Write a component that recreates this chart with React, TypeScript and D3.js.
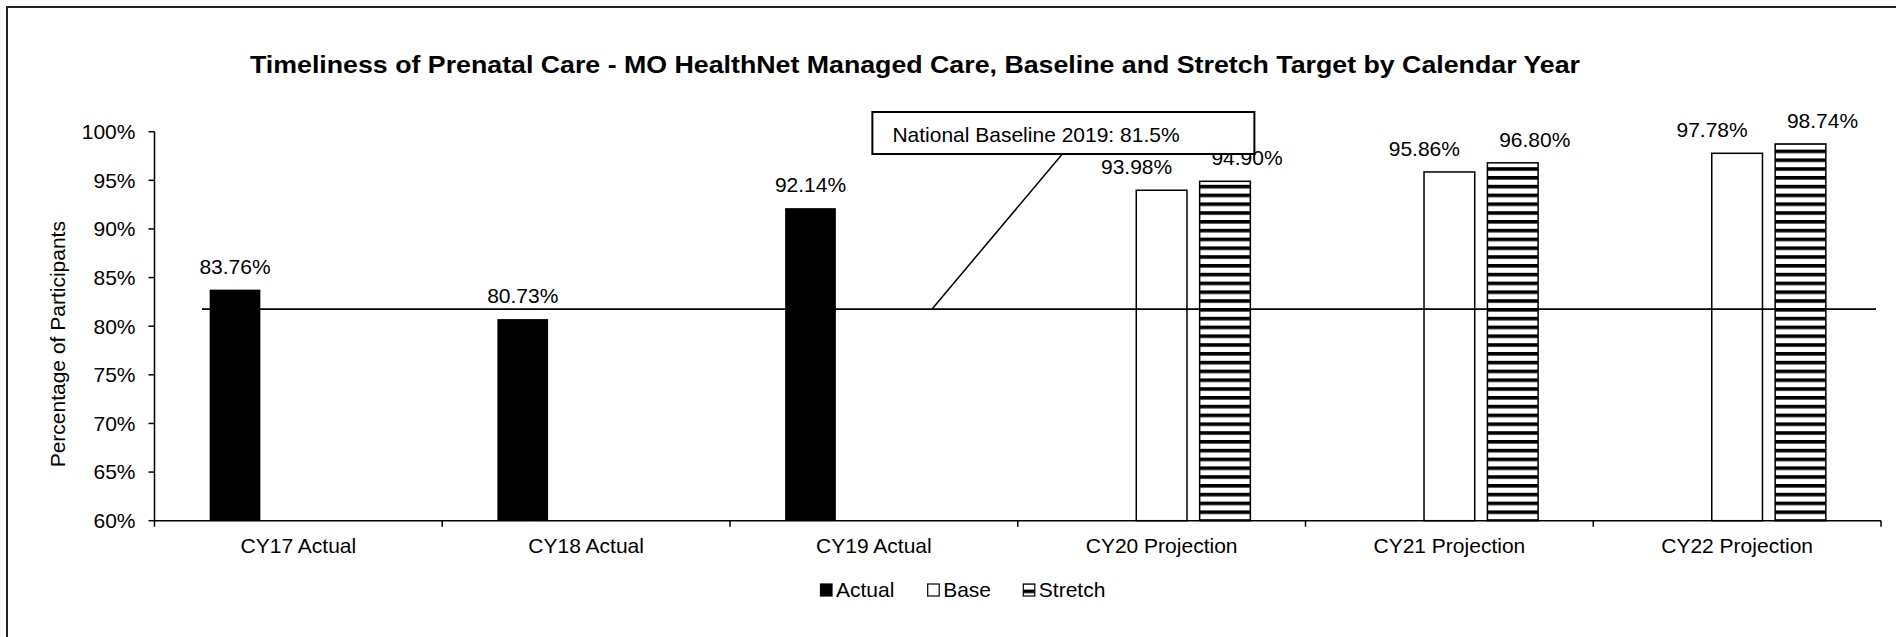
import * as d3 from 'd3'

const categories = [
  'CY17 Actual',
  'CY18 Actual',
  'CY19 Actual',
  'CY20 Projection',
  'CY21 Projection',
  'CY22 Projection'
]
const seriesNames = ['Actual', 'Base', 'Stretch']
const actualValues = [83.76, 80.73, 92.14, null, null, null]
const baseValues = [null, null, null, 93.98, 95.86, 97.78]
const stretchValues = [null, null, null, 94.9, 96.8, 98.74]
const yTicks = [60, 65, 70, 75, 80, 85, 90, 95, 100]

const title =
  'Timeliness of Prenatal Care - MO HealthNet Managed Care, Baseline and Stretch Target by Calendar Year'
const yTitle = 'Percentage of Participants'
const baselineLabel = 'National Baseline 2019: 81.5%'
// the drawn line sits a touch above 81.5 in the source
const baselineLineAt = 81.75

const W = 1896
const H = 637
const FONT = "'Liberation Sans', Arial, sans-serif"

const plot = { left: 154.5, right: 1881, top: 131.7, bottom: 520.7 }

const App = () => {
  const x0 = d3.scaleBand().domain(categories).range([plot.left, plot.right]).padding(0)
  const x1 = d3
    .scaleBand()
    .domain(seriesNames)
    .range([0, x0.bandwidth()])
    .paddingInner(0.2)
    .paddingOuter(0.87)
  const y = d3.scaleLinear().domain([60, 100]).range([plot.bottom, plot.top])

  const seriesValues = { Actual: actualValues, Base: baseValues, Stretch: stretchValues }
  // data labels were nudged sideways in the original
  const labelShift = { Actual: 0, Base: -25, Stretch: 22 }

  const fmt = (v) => v.toFixed(2) + '%'

  const bars = []
  seriesNames.forEach((s) => {
    seriesValues[s].forEach((v, i) => {
      if (v == null) return
      const bx = x0(categories[i]) + x1(s)
      const by = y(v)
      const fill = s === 'Actual' ? '#000' : s === 'Base' ? '#fff' : 'url(#hstripe)'
      bars.push(
        <g key={s + i}>
          <rect
            x={bx}
            y={by}
            width={x1.bandwidth()}
            height={plot.bottom - by}
            fill={fill}
            stroke='#000'
            strokeWidth={s === 'Actual' ? 0 : 1.5}
          />
          <text
            x={bx + x1.bandwidth() / 2 + labelShift[s]}
            y={by - 16}
            textAnchor='middle'
            fontSize={21}
          >
            {fmt(v)}
          </text>
        </g>
      )
    })
  })

  const catTicks = categories.map((c) => x0(c)).concat([plot.right])

  const lineY = y(baselineLineAt)
  const cy19 = x0('CY19 Actual') + x0.bandwidth() / 2
  const box = { x: cy19 - 1.5, y: 112, w: 382, h: 42 }

  const legendX = [820.5, 927.7, 1023.3]
  const legendFill = ['#000', '#fff', 'url(#hstripe)']

  return (
    <svg
      width={W}
      height={H}
      style={{ position: 'absolute', left: 0, top: 0, display: 'block', fontFamily: FONT }}
    >
      <defs>
        <pattern id='hstripe' patternUnits='userSpaceOnUse' width={10} height={8.8}>
          <rect width={10} height={8.8} fill='#fff' />
          <rect width={10} height={3.6} fill='#000' />
        </pattern>
      </defs>
      <rect width={W} height={H} fill='#fff' />
      <rect x={7} y={7} width={W + 20} height={H + 20} fill='none' stroke='#222' strokeWidth={2} />

      <text x={250} y={73.3} fontSize={24} fontWeight='bold' textLength={1330} lengthAdjust='spacingAndGlyphs'>
        {title}
      </text>

      {/* y axis */}
      <line x1={plot.left} x2={plot.left} y1={plot.top} y2={plot.bottom} stroke='#000' strokeWidth={1.5} />
      {yTicks.map((t) => (
        <g key={t}>
          <line x1={plot.left - 6} x2={plot.left} y1={y(t)} y2={y(t)} stroke='#000' strokeWidth={1.5} />
          <text x={plot.left - 19} y={y(t)} dy='0.35em' textAnchor='end' fontSize={21}>
            {t}%
          </text>
        </g>
      ))}
      <text
        transform={`translate(65,${(plot.top + plot.bottom) / 2 + 18}) rotate(-90)`}
        textAnchor='middle'
        fontSize={21}
      >
        {yTitle}
      </text>

      {bars}

      {/* x axis */}
      <line x1={plot.left} x2={plot.right} y1={plot.bottom} y2={plot.bottom} stroke='#000' strokeWidth={1.5} />
      {catTicks.map((t, i) => (
        <line key={i} x1={t} x2={t} y1={plot.bottom} y2={plot.bottom + 6} stroke='#000' strokeWidth={1.5} />
      ))}
      {categories.map((c) => (
        <text key={c} x={x0(c) + x0.bandwidth() / 2} y={553.3} textAnchor='middle' fontSize={21}>
          {c}
        </text>
      ))}

      {/* national baseline line and callout */}
      <line x1={x0('CY17 Actual') + 47.5} x2={plot.right - 5} y1={lineY} y2={lineY} stroke='#000' strokeWidth={1.8} />
      <line x1={box.x + 190} y1={box.y + box.h} x2={cy19 + 58} y2={lineY} stroke='#000' strokeWidth={1.5} />
      <rect x={box.x} y={box.y} width={box.w} height={box.h} fill='#fff' stroke='#000' strokeWidth={2} />
      <text x={box.x + 20} y={box.y + 30.3} fontSize={21}>
        {baselineLabel}
      </text>

      {/* legend */}
      {seriesNames.map((s, i) => (
        <g key={s}>
          <rect
            x={legendX[i]}
            y={584}
            width={11.5}
            height={12}
            fill={legendFill[i]}
            stroke='#000'
            strokeWidth={1.2}
          />
          <text x={legendX[i] + 15.5} y={596.7} fontSize={21}>
            {s}
          </text>
        </g>
      ))}
    </svg>
  )
}

export default App
